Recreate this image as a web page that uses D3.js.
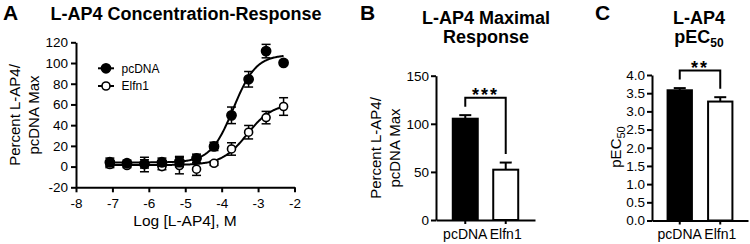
<!DOCTYPE html>
<html lang="en">
<head>
<meta charset="UTF-8">
<title>L-AP4 responses</title>
<script src="https://d3js.org/d3.v7.min.js"></script>
<style>
    body { margin: 0; background: #fff; }
    svg { font-family: "Liberation Sans", Arial, sans-serif; }
    .axis path, .axis line { stroke: #000; stroke-width: 2px; }
    .axis text { fill: #000; font-size: 13.5px; }
    .axis.cat text { font-size: 14px; }
    .title { font-weight: bold; font-size: 18px; text-anchor: middle; }
    .letter { font-weight: bold; font-size: 21px; }
    .ylab { font-size: 15px; text-anchor: middle; }
</style>
</head>
<body>
<div id="chart"></div>
<script>
    // panel A: concentration-response, log [L-AP4] in M
    var logConc = [-7.07, -6.6, -6.12, -5.64, -5.16, -4.69, -4.21, -3.73, -3.26, -2.78, -2.3];
    var pcdnaMean = [4.2, 3.2, 2.6, 4.2, 4.8, 8, 19.5, 49.5, 84.3, 111.5, 100.2];
    var pcdnaSem  = [4, 3, 4, 4, 5, 4, 4, 8, 7.5, 6.5, 2];
    var elfnMean  = [2, 1, 2, 0, 1, -2.5, 3.2, 17, 33.2, 47.3, 58];
    var elfnSem   = [3, 2, 7, 3, 8, 6, 2, 6, 6.5, 6, 8.5];
    // fitted curves: bottom, top, logEC50, hill slope
    var pcdnaFit = [4, 108, -3.68, 1.4];
    var elfnFit  = [1.5, 61, -3.3, 1.25];
    var xTicksA = [-8, -7, -6, -5, -4, -3, -2];
    var yTicksA = [-20, 0, 20, 40, 60, 80, 100, 120];

    // panel B and C
    var groups = ["pcDNA", "Elfn1"];
    var maxMean = [105.3, 52.3];
    var maxSem  = [3.7, 7.4];
    var maxStars = "***";
    var yTicksB = [0, 50, 100, 150];
    var pecMean = [3.58, 3.27];
    var pecSem  = [0.06, 0.12];
    var pecStars = "**";
    var yTicksC = [0, 0.5, 1, 1.5, 2, 2.5, 3, 3.5, 4];

    var svg = d3.select("#chart").append("svg")
        .attr("width", 750)
        .attr("height", 244);

    // ---------- A ----------
    var gA = svg.append("g");
    var xA = d3.scaleLinear().domain([-8, -2]).range([76, 294.5]);
    var yA = d3.scaleLinear().domain([-20, 120]).range([187.3, 42.3]);

    gA.append("g").attr("class", "axis")
        .attr("transform", "translate(0," + yA(-20) + ")")
        .call(d3.axisBottom(xA).tickValues(xTicksA).tickSize(5).tickSizeOuter(0).tickPadding(6)
            .tickFormat(function(d) { return String(d); }));
    gA.append("g").attr("class", "axis")
        .attr("transform", "translate(" + xA(-8) + ",0)")
        .call(d3.axisLeft(yA).tickValues(yTicksA).tickSize(5).tickSizeOuter(0).tickPadding(3)
            .tickFormat(function(d) { return String(d); }));

    function logistic(p) {
        return function(x) { return p[0] + (p[1] - p[0]) / (1 + Math.pow(10, p[3] * (p[2] - x))); };
    }
    var curveLine = d3.line().x(function(d) { return xA(d[0]); }).y(function(d) { return yA(d[1]); });

    function drawSeries(means, sems, fit, filled) {
        var f = logistic(fit);
        var xs = d3.range(0, 201).map(function(i) {
            return logConc[0] + (logConc[logConc.length - 1] - logConc[0]) * i / 200;
        });
        gA.append("path")
            .attr("d", curveLine(xs.map(function(x) { return [x, f(x)]; })))
            .attr("fill", "none").attr("stroke", "#000").attr("stroke-width", 2);

        var g = gA.append("g");
        logConc.forEach(function(c, i) {
            var x = xA(c), y0 = yA(means[i] - sems[i]), y1 = yA(means[i] + sems[i]);
            g.append("line").attr("x1", x).attr("x2", x).attr("y1", y0).attr("y2", y1)
                .attr("stroke", "#000").attr("stroke-width", 1.5);
            [y0, y1].forEach(function(yy) {
                g.append("line").attr("x1", x - 4.5).attr("x2", x + 4.5).attr("y1", yy).attr("y2", yy)
                    .attr("stroke", "#000").attr("stroke-width", 1.5);
            });
        });
        g.selectAll("circle").data(means).enter().append("circle")
            .attr("cx", function(d, i) { return xA(logConc[i]); })
            .attr("cy", function(d) { return yA(d); })
            .attr("r", filled ? 4.6 : 4)
            .attr("fill", filled ? "#000" : "#fff")
            .attr("stroke", "#000").attr("stroke-width", 1.6);
    }
    drawSeries(elfnMean, elfnSem, elfnFit, false);
    drawSeries(pcdnaMean, pcdnaSem, pcdnaFit, true);

    // legend
    [["pcDNA", true, 68.3], ["Elfn1", false, 86]].forEach(function(d) {
        gA.append("line").attr("x1", 98).attr("x2", 114).attr("y1", d[2]).attr("y2", d[2])
            .attr("stroke", "#000").attr("stroke-width", 2);
        gA.append("circle").attr("cx", 106).attr("cy", d[2]).attr("r", d[1] ? 4.6 : 4)
            .attr("fill", d[1] ? "#000" : "#fff").attr("stroke", "#000").attr("stroke-width", 1.6);
        gA.append("text").attr("x", 121.5).attr("y", d[2] + 4.3)
            .style("font-size", "12px").text(d[0]);
    });

    gA.append("text").attr("class", "letter").attr("x", 3).attr("y", 19.5).text("A");
    gA.append("text").attr("class", "title").attr("x", 186).attr("y", 19.5).text("L-AP4 Concentration-Response");
    gA.append("text").attr("x", 185).attr("y", 226).style("font-size", "15.5px")
        .attr("text-anchor", "middle").text("Log [L-AP4], M");
    var ylA = gA.append("text").attr("class", "ylab")
        .attr("transform", "translate(20," + 115 + ") rotate(-90)");
    ylA.append("tspan").attr("x", 0).attr("y", 0).text("Percent L-AP4/");
    ylA.append("tspan").attr("x", 0).attr("y", 19).text("pcDNA Max");

    // ---------- bar panels ----------
    function barPanel(opt) {
        var g = svg.append("g");
        var y = d3.scaleLinear().domain(opt.domain).range([opt.y0, opt.y1]);
        var x = d3.scaleBand().domain(groups).range([opt.x0, opt.x1])
            .paddingInner(opt.pin).paddingOuter(opt.pout);

        g.append("g").attr("class", "axis cat")
            .attr("transform", "translate(0," + opt.y0 + ")")
            .call(d3.axisBottom(x).tickSize(4).tickSizeOuter(0).tickPadding(5));
        g.append("g").attr("class", "axis")
            .attr("transform", "translate(" + opt.x0 + ",0)")
            .call(d3.axisLeft(y).tickValues(opt.ticks).tickSize(5).tickSizeOuter(0).tickPadding(2)
                .tickFormat(opt.fmt));

        g.selectAll("rect.bar").data(opt.mean).enter().append("rect")
            .attr("class", "bar")
            .attr("x", function(d, i) { return x(groups[i]) + 1; })
            .attr("width", x.bandwidth() - 2)
            .attr("y", function(d) { return y(d); })
            .attr("height", function(d) { return opt.y0 - y(d); })
            .attr("fill", function(d, i) { return i === 0 ? "#000" : "#fff"; })
            .attr("stroke", "#000").attr("stroke-width", 2);

        var tops = [];
        opt.mean.forEach(function(m, i) {
            var cx = x(groups[i]) + x.bandwidth() / 2, yt = y(m + opt.sem[i]);
            tops.push(yt);
            g.append("line").attr("x1", cx).attr("x2", cx).attr("y1", y(m)).attr("y2", yt)
                .attr("stroke", "#000").attr("stroke-width", 2);
            g.append("line").attr("x1", cx - 6).attr("x2", cx + 6).attr("y1", yt).attr("y2", yt)
                .attr("stroke", "#000").attr("stroke-width", 2);
        });

        // significance bracket
        var cA = x(groups[0]) + x.bandwidth() / 2, cB = x(groups[1]) + x.bandwidth() / 2;
        var by = d3.min(tops) - 17.5;
        g.append("path")
            .attr("d", "M" + cA + "," + (tops[0] - 8.5) + "V" + by + "H" + cB + "V" + (tops[1] - 8.5))
            .attr("fill", "none").attr("stroke", "#000").attr("stroke-width", 2);
        g.append("text").attr("x", (cA + cB) / 2).attr("y", by + 3)
            .attr("text-anchor", "middle").style("font-size", "18px").style("font-weight", "bold")
            .style("letter-spacing", "2px")
            .text(opt.stars);
        return g;
    }

    var gB = barPanel({domain: [0, 150], y0: 220, y1: 75.7, x0: 436, x1: 535, pin: 0.333, pout: 0.39,
        ticks: yTicksB, fmt: d3.format("d"), mean: maxMean, sem: maxSem, stars: maxStars});
    gB.append("text").attr("class", "letter").attr("x", 360).attr("y", 19.5).text("B");
    gB.append("text").attr("class", "title").attr("x", 486).attr("y", 23.5).text("L-AP4 Maximal");
    gB.append("text").attr("class", "title").attr("x", 486).attr("y", 42.5).text("Response");
    var ylB = gB.append("text").attr("class", "ylab")
        .attr("transform", "translate(381," + 148 + ") rotate(-90)");
    ylB.append("tspan").attr("x", 0).attr("y", 0).text("Percent L-AP4/");
    ylB.append("tspan").attr("x", 0).attr("y", 19).text("pcDNA Max");

    var gC = barPanel({domain: [0, 4], y0: 220.5, y1: 75, x0: 652, x1: 748, pin: 0.35, pout: 0.36,
        ticks: yTicksC, fmt: d3.format(".1f"), mean: pecMean, sem: pecSem, stars: pecStars});
    gC.append("text").attr("class", "letter").attr("x", 595).attr("y", 19.5).text("C");
    gC.append("text").attr("class", "title").attr("x", 699).attr("y", 23.5).text("L-AP4");
    var tC = gC.append("text").attr("class", "title").attr("x", 699).attr("y", 42.5).text("pEC");
    tC.append("tspan").attr("dy", 4).style("font-size", "12px").text("50");
    var ylC = gC.append("text").attr("class", "ylab")
        .attr("transform", "translate(621," + 147 + ") rotate(-90)");
    ylC.append("tspan").text("pEC");
    ylC.append("tspan").attr("dy", 4).style("font-size", "11px").text("50");
</script>
</body>
</html>
